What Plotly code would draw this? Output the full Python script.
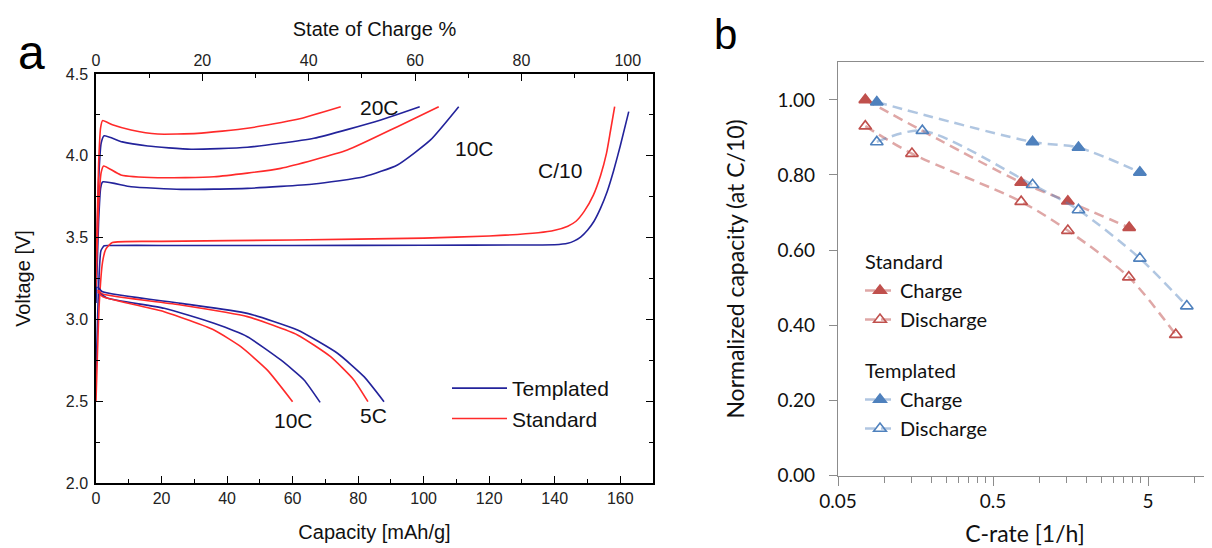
import plotly.graph_objects as go

# ---------------- Panel a : voltage profiles ----------------
# Templated (blue)
t_c10_cap = [0, 0.8, 1.5, 2.5, 4, 20, 60, 100, 130, 140, 144, 146, 148, 150, 152, 154, 156, 158, 160, 162.6]
t_c10_v = [2.65, 3.2, 3.42, 3.45, 3.452, 3.452, 3.452, 3.453, 3.455, 3.456, 3.465, 3.48, 3.505, 3.545, 3.60, 3.68, 3.78, 3.91, 4.06, 4.27]
t_20c_cap = [0, 0.8, 1.6, 2.5, 8, 15.8, 29, 46.2, 66.5, 86.9, 98.8]
t_20c_v = [3.2, 3.85, 4.08, 4.122, 4.085, 4.06, 4.040, 4.052, 4.107, 4.219, 4.300]
t_10c_cap = [0, 0.8, 1.4, 2.0, 10.7, 25.9, 46.2, 66.5, 81.8, 92, 102.1, 110.7]
t_10c_v = [3.1, 3.6, 3.8, 3.84, 3.811, 3.795, 3.801, 3.828, 3.872, 3.944, 4.097, 4.300]
t_d5c_cap = [0.5, 2.0, 25.9, 46.2, 61.5, 73.7, 81.8, 87.9]
t_d5c_v = [3.2, 3.169, 3.098, 3.037, 2.935, 2.793, 2.65, 2.497]
t_d10c_cap = [1.0, 3.6, 20.8, 36, 46.2, 56.4, 63.5, 68.4]
t_d10c_v = [3.16, 3.129, 3.068, 2.976, 2.894, 2.752, 2.63, 2.493]

# Standard (red)
s_c10_cap = [0, 1.0, 2.0, 3.0, 5.0, 20, 60, 100, 120, 135, 140, 144, 146.5, 149, 151.8, 154, 155.8, 157, 158.3]
s_c10_v = [2.5, 3.1, 3.35, 3.43, 3.47, 3.477, 3.485, 3.497, 3.51, 3.53, 3.545, 3.57, 3.6, 3.66, 3.76, 3.88, 4.015, 4.15, 4.30]
s_20c_cap = [0, 0.8, 1.4, 2.0, 5, 10.7, 18.8, 31, 46.2, 61.5, 74.7]
s_20c_v = [3.3, 3.95, 4.17, 4.215, 4.19, 4.158, 4.133, 4.137, 4.168, 4.223, 4.300]
s_10c_cap = [0, 0.8, 1.6, 2.3, 7.6, 18.8, 36, 56.4, 76.7, 92, 104.6]
s_10c_v = [3.2, 3.7, 3.9, 3.938, 3.883, 3.866, 3.872, 3.923, 4.035, 4.178, 4.300]
s_d5c_cap = [0.5, 2.0, 25.9, 46.2, 61.5, 71.6, 78.7, 83]
s_d5c_v = [3.18, 3.155, 3.088, 3.017, 2.905, 2.772, 2.63, 2.497]
s_d10c_cap = [0.5, 2.0, 20.8, 36, 44.2, 52.3, 60]
s_d10c_v = [3.17, 3.139, 3.047, 2.935, 2.833, 2.69, 2.497]

curve_labels = ["20C", "10C", "C/10", "10C", "5C"]
curve_label_x = [86.5, 115.5, 141.5, 60.2, 84.8]
curve_label_y = [4.298, 4.043, 3.913, 2.383, 2.415]

soc_full_cap = 162.3  # mAh/g corresponding to 100 % state of charge

# ---------------- Panel b : rate capability ----------------
std_charge_rate = [0.075, 0.76, 1.52, 3.78]
std_charge_cap = [1.00, 0.78, 0.73, 0.66]
std_dis_rate = [0.075, 0.15, 0.76, 1.52, 3.76, 7.55]
std_dis_cap = [0.93, 0.857, 0.729, 0.652, 0.528, 0.375]
tmp_charge_rate = [0.089, 0.90, 1.78, 4.43]
tmp_charge_cap = [0.994, 0.888, 0.873, 0.807]
tmp_dis_rate = [0.089, 0.175, 0.90, 1.78, 4.43, 8.9]
tmp_dis_cap = [0.888, 0.918, 0.774, 0.707, 0.578, 0.451]

BLUE_A = "#23239b"
RED_A = "#ff2a2a"
RED_B = "#c0504d"
BLUE_B = "#4f81bd"
RED_B_LINE = "rgba(192,80,77,0.5)"
BLUE_B_LINE = "rgba(79,129,189,0.45)"
FONT_A = "Liberation Sans, Arial, sans-serif"
FONT_B = "Lato, Open Sans, sans-serif"

# the page adds an 8 px body margin; size the figure so it fills the window exactly
W, H, OFF = 1204, 540, 8


def px(xp):
    return (xp - OFF) / W


def py(yp):
    return 1 - (yp - OFF) / H


fig = go.Figure()


def add_a(x, y, color, name=None, show=False):
    fig.add_trace(go.Scatter(
        x=x, y=y, mode="lines", xaxis="x", yaxis="y",
        line=dict(color=color, width=1.6, shape="spline", smoothing=0.5),
        name=name, showlegend=show, legend="legend2", hoverinfo="skip"))


add_a(t_c10_cap, t_c10_v, BLUE_A, "Templated", True)
add_a(s_c10_cap, s_c10_v, RED_A, "Standard", True)
add_a(t_20c_cap, t_20c_v, BLUE_A)
add_a(s_20c_cap, s_20c_v, RED_A)
add_a(t_10c_cap, t_10c_v, BLUE_A)
add_a(s_10c_cap, s_10c_v, RED_A)
add_a(t_d5c_cap, t_d5c_v, BLUE_A)
add_a(s_d5c_cap, s_d5c_v, RED_A)
add_a(t_d10c_cap, t_d10c_v, BLUE_A)
add_a(s_d10c_cap, s_d10c_v, RED_A)

# invisible trace so the top (state-of-charge) axis is drawn
fig.add_trace(go.Scatter(x=[0], y=[2.0], xaxis="x3", yaxis="y", mode="markers",
                         marker=dict(opacity=0), showlegend=False, hoverinfo="skip"))

for t, x, y in zip(curve_labels, curve_label_x, curve_label_y):
    fig.add_annotation(x=x, y=y, xref="x", yref="y", text=t, showarrow=False,
                       font=dict(family=FONT_A, size=21, color="#111"))


def add_b(x, y, color, lcolor, symbol, name, group, title=None):
    fig.add_trace(go.Scatter(
        x=x, y=y, mode="lines+markers", xaxis="x2", yaxis="y2",
        line=dict(color=lcolor, width=2.5, dash="10px,6px", shape="spline", smoothing=0.8),
        marker=dict(symbol=symbol, size=11, color=color, line=dict(color=color, width=1.6)),
        name=name, legendgroup=group, legend="legend",
        legendgrouptitle=dict(text=title, font=dict(family=FONT_B, size=20, color="#111")) if title else None,
        hoverinfo="skip"))


add_b(std_charge_rate, std_charge_cap, RED_B, RED_B_LINE, "triangle-up", "Charge", "std", "Standard")
add_b(std_dis_rate, std_dis_cap, RED_B, RED_B_LINE, "triangle-up-open", "Discharge", "std")
add_b(tmp_charge_rate, tmp_charge_cap, BLUE_B, BLUE_B_LINE, "triangle-up", "Charge", "tmp", "Templated")
add_b(tmp_dis_rate, tmp_dis_cap, BLUE_B, BLUE_B_LINE, "triangle-up-open", "Discharge", "tmp")

minor_b = []
for dec in [0.05, 0.5, 5]:
    for k in range(2, 10):
        minor_b.append(dec * k)

fig.add_annotation(x=px(31), y=py(52), xref="paper", yref="paper", text="a",
                   xanchor="center", yanchor="middle",
                   showarrow=False, font=dict(family=FONT_A, size=48, color="black"))
fig.add_annotation(x=px(725), y=py(34), xref="paper", yref="paper", text="b",
                   xanchor="center", yanchor="middle",
                   showarrow=False, font=dict(family=FONT_A, size=42, color="black"))

# panel b log axis: 155 px per decade starting at 0.05
b_left, b_right = 838, 1212
b_range = [-1.301, -1.301 + (b_right - b_left) / 155.0]

fig.update_layout(
    width=W, height=H,
    margin=dict(l=0, r=0, t=0, b=0, autoexpand=False),
    paper_bgcolor="white", plot_bgcolor="white",
    xaxis=dict(domain=[px(96), px(653)], range=[0, 170], anchor="y", automargin=False,
               showline=True, linecolor="black", linewidth=1.5, mirror=False,
               ticks="inside", ticklen=7, tickwidth=1.3, tickcolor="black", dtick=20, tick0=0,
               minor=dict(dtick=10, ticks="inside", ticklen=4, tickcolor="black", tickwidth=1.3),
               showgrid=False, zeroline=False,
               tickfont=dict(family=FONT_A, size=16, color="#222"),
               title=dict(text="Capacity [mAh/g]", font=dict(family=FONT_A, size=20, color="#111"), standoff=19)),
    xaxis3=dict(domain=[px(96), px(653)], range=[0, 170 / soc_full_cap * 100], automargin=False,
                overlaying="x", anchor="y", side="top",
                showline=True, linecolor="black", linewidth=1.5,
                ticks="inside", ticklen=7, tickwidth=1.3, tickcolor="black", dtick=20, tick0=0,
                minor=dict(dtick=10, ticks="inside", ticklen=4, tickcolor="black", tickwidth=1.3),
                showgrid=False, zeroline=False,
                tickfont=dict(family=FONT_A, size=16, color="#222"),
                title=dict(text="State of Charge %", font=dict(family=FONT_A, size=20, color="#111"), standoff=10)),
    yaxis=dict(domain=[py(483), py(74)], range=[2.0, 4.5], anchor="x", automargin=False,
               showline=True, linecolor="black", linewidth=1.5, mirror="ticks",
               ticks="inside", ticklen=7, tickwidth=1.3, tickcolor="black", dtick=0.5, tick0=2.0,
               tickformat=".1f", ticklabelstandoff=3,
               minor=dict(dtick=0.25, ticks="inside", ticklen=4, tickcolor="black", tickwidth=1.3),
               showgrid=False, zeroline=False,
               tickfont=dict(family=FONT_A, size=16, color="#222"),
               title=dict(text="Voltage [V]", font=dict(family=FONT_A, size=20, color="#111"), standoff=30)),
    xaxis2=dict(domain=[px(b_left), 1.0], type="log", range=b_range, anchor="y2", automargin=False,
                showline=True, linecolor="#8c8c8c", linewidth=1.3, mirror=True,
                tickmode="array", tickvals=[0.05, 0.5, 5, 50], ticktext=["0.05", "0.5", "5", "50"],
                ticks="outside", ticklen=9, tickcolor="#8c8c8c", tickwidth=1.2,
                minor=dict(tickmode="array", tickvals=minor_b, ticks="outside", ticklen=6,
                           tickcolor="#8c8c8c", tickwidth=1.2),
                showgrid=False, zeroline=False,
                tickfont=dict(family=FONT_B, size=19, color="#111"),
                title=dict(text="C-rate [1/h]", font=dict(family=FONT_B, size=23, color="#111"), standoff=14)),
    yaxis2=dict(domain=[py(475.5), py(62.3)], range=[0, 1.1], anchor="x2", automargin=False,
                showline=True, linecolor="#8c8c8c", linewidth=1.3, mirror=False,
                tickmode="array", tickvals=[0, 0.2, 0.4, 0.6, 0.8, 1.0],
                tickformat=".2f", ticks="outside", ticklen=8, tickcolor="#8c8c8c", tickwidth=1.2,
                ticklabelstandoff=10,
                showgrid=False, zeroline=False,
                tickfont=dict(family=FONT_B, size=19, color="#111"),
                title=dict(text="Normalized capacity (at C/10)", font=dict(family=FONT_B, size=23, color="#111"), standoff=26)),
    legend=dict(x=px(860), y=py(242), xanchor="left", yanchor="top",
                traceorder="grouped", tracegroupgap=22, bgcolor="rgba(0,0,0,0)",
                font=dict(family=FONT_B, size=20, color="#111"), itemwidth=30),
    legend2=dict(x=px(447), y=py(368), xanchor="left", yanchor="top",
                 bgcolor="rgba(0,0,0,0)", font=dict(family=FONT_A, size=21, color="#111"),
                 itemwidth=55, tracegroupgap=0),
)

fig.write_html("out.html")
